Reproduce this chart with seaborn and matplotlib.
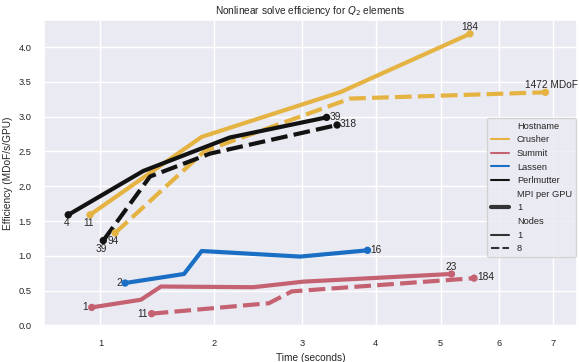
import numpy as np
import pandas as pd
import matplotlib
matplotlib.use("Agg")
import matplotlib.pyplot as plt
import seaborn as sns

# ---- data ----
crusher_1_time = [0.926, 1.872, 3.50, 5.49]
crusher_1_eff = [1.59, 2.71, 3.35, 4.19]
crusher_8_time = [1.11, 1.905, 3.64, 6.85]
crusher_8_eff = [1.33, 2.51, 3.26, 3.35]
perl_1_time = [0.78, 1.336, 2.16, 3.32]
perl_1_eff = [1.59, 2.22, 2.70, 2.99]
perl_8_time = [1.021, 1.393, 1.957, 3.46]
perl_8_eff = [1.22, 2.14, 2.47, 2.88]
lassen_1_time = [1.187, 1.70, 1.872, 2.979, 3.884]
lassen_1_eff = [0.61, 0.74, 1.07, 0.99, 1.08]
summit_1_time = [0.938, 1.316, 1.489, 2.42, 3.02, 5.18]
summit_1_eff = [0.26, 0.37, 0.56, 0.55, 0.63, 0.74]
summit_8_time = [1.407, 2.60, 2.875, 5.56]
summit_8_eff = [0.17, 0.32, 0.49, 0.68]

hostnames = ["Crusher", "Summit", "Lassen", "Perlmutter"]
palette = {"Crusher": "#e4b342", "Summit": "#c46272", "Lassen": "#1a6fc4", "Perlmutter": "#121212"}

series = [
    ("Crusher", "1", crusher_1_time, crusher_1_eff, "11", "184"),
    ("Crusher", "8", crusher_8_time, crusher_8_eff, "94", "1472 MDoF"),
    ("Summit", "1", summit_1_time, summit_1_eff, "1", "23"),
    ("Summit", "8", summit_8_time, summit_8_eff, "11", "184"),
    ("Lassen", "1", lassen_1_time, lassen_1_eff, "2", "16"),
    ("Perlmutter", "1", perl_1_time, perl_1_eff, "4", "39"),
    ("Perlmutter", "8", perl_8_time, perl_8_eff, "39", "318"),
]

rows = []
for host, nodes, t, e, _, _ in series:
    for ti, ei in zip(t, e):
        rows.append({"Hostname": host, "Nodes": nodes, "MPI per GPU": "1",
                     "Time (seconds)": ti, "Efficiency (MDoF/s/GPU)": ei})
df = pd.DataFrame(rows)

sns.set_theme(style="darkgrid")
plt.rcParams["font.family"] = ["Liberation Sans", "DejaVu Sans"]

fig = plt.figure(figsize=(5.79, 3.62), dpi=100)
ax = fig.add_axes([0.076, 0.097, 0.921, 0.848])

sns.lineplot(data=df, x="Time (seconds)", y="Efficiency (MDoF/s/GPU)",
             hue="Hostname", hue_order=hostnames, palette=palette,
             size="MPI per GPU", sizes={"1": 3.0},
             style="Nodes", style_order=["1", "8"], dashes={"1": "", "8": (4, 1.5)},
             estimator=None, sort=False, ax=ax)

# end point markers
ends = []
for host, nodes, t, e, _, _ in series:
    ends.append({"Hostname": host, "x": t[0], "y": e[0]})
    ends.append({"Hostname": host, "x": t[-1], "y": e[-1]})
ends = pd.DataFrame(ends)
sns.scatterplot(data=ends, x="x", y="y", hue="Hostname", palette=palette,
                s=28, linewidth=0, legend=False, ax=ax, zorder=5)

# annotations: start, end
start_pos = {
    ("Crusher", "1"): "below", ("Crusher", "8"): "below",
    ("Perlmutter", "1"): "below", ("Perlmutter", "8"): "below",
    ("Lassen", "1"): "left", ("Summit", "1"): "left", ("Summit", "8"): "left",
}
end_pos = {
    ("Crusher", "1"): "above", ("Crusher", "8"): "above_r",
    ("Perlmutter", "1"): "right", ("Perlmutter", "8"): "right",
    ("Lassen", "1"): "right", ("Summit", "1"): "above", ("Summit", "8"): "right",
}
place = {
    "below": dict(xytext=(-1.2, -2.2), ha="center", va="top"),
    "left": dict(xytext=(-2.5, 0), ha="right", va="center"),
    "right": dict(xytext=(2.0, 0.5), ha="left", va="center"),
    "above": dict(xytext=(0, 1.5), ha="center", va="bottom"),
    "above_r": dict(xytext=(4.5, 1.5), ha="center", va="bottom"),
}
for host, nodes, t, e, lab0, lab1 in series:
    p0 = place[start_pos[(host, nodes)]]
    ax.annotate(lab0, xy=(t[0], e[0]), textcoords="offset points", fontsize=7.3,
                color="#262626", **p0)
    p1 = place[end_pos[(host, nodes)]]
    ax.annotate(lab1, xy=(t[-1], e[-1]), textcoords="offset points", fontsize=7.3,
                color="#262626", **p1)

ax.set_xscale("function", functions=(np.sqrt, np.square))
xticks = [1, 2, 3, 4, 5, 6, 7]
ax.set_xticks(xticks)
ax.set_xticklabels([str(v) for v in xticks])
ax.minorticks_off()
ax.set_xlim(0.632, 7.47)
ax.set_ylim(-0.02, 4.39)
ax.set_yticks([0.0, 0.5, 1.0, 1.5, 2.0, 2.5, 3.0, 3.5, 4.0])
ax.tick_params(axis="both", labelsize=6.7, pad=3)
ax.set_xlabel("Time (seconds)", fontsize=7.3, labelpad=3)
ax.set_ylabel("Efficiency (MDoF/s/GPU)", fontsize=7.3, labelpad=4)
ax.set_title("Nonlinear solve efficiency for $Q_2$ elements", fontsize=7.3, pad=4)

sns.move_legend(ax, "upper right", bbox_to_anchor=(0.997, 0.681), borderaxespad=0,
                fontsize=6.7, frameon=True, title=None)

fig.savefig("out.png", dpi=100)
